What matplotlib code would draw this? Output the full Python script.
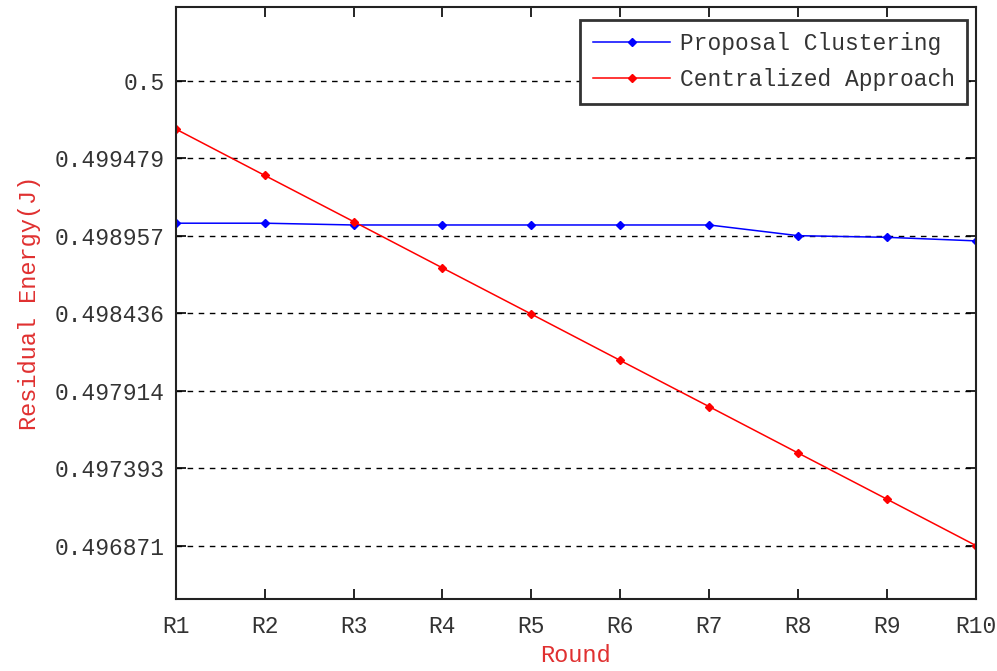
import numpy as np
import matplotlib.pyplot as plt

rounds = ['R1', 'R2', 'R3', 'R4', 'R5', 'R6', 'R7', 'R8', 'R9', 'R10']
proposal = [0.499041, 0.499041, 0.499029, 0.499029, 0.499029,
            0.499029, 0.499029, 0.498957, 0.498946, 0.498922]
centralized = [0.499675, 0.499363, 0.499052, 0.498740, 0.498429,
               0.498117, 0.497806, 0.497494, 0.497183, 0.496871]
ytick_vals = [0.496871, 0.497393, 0.497914, 0.498436, 0.498957, 0.499479, 0.5]
ytick_labels = ['0.496871', '0.497393', '0.497914', '0.498436', '0.498957', '0.499479', '0.5']

plt.rcParams['font.family'] = ['Liberation Mono', 'DejaVu Sans Mono']

fig = plt.figure(figsize=(9.97, 6.71), dpi=100)
ax = fig.add_axes([0.1762, 0.1069, 0.8028, 0.8831])

x = np.arange(len(rounds))
ax.plot(x, proposal, color='blue', lw=1.1, marker='D', ms=4.5, label='Proposal Clustering')
ax.plot(x, centralized, color='red', lw=1.1, marker='D', ms=4.5, label='Centralized Approach')

ax.set_xlim(0, len(rounds) - 1)
ax.set_ylim(0.49651, 0.500498)
ax.set_xticks(x)
ax.set_xticklabels(rounds)
ax.set_yticks(ytick_vals)
ax.set_yticklabels(ytick_labels)

ax.yaxis.grid(True, color='black', linestyle=(0, (4, 4)), lw=1)
ax.tick_params(direction='in', length=7, width=1.2, top=True, right=True,
               labelsize=16.5, labelcolor='#333333')
ax.tick_params(axis='x', pad=11)
ax.tick_params(axis='y', pad=8)
for s in ax.spines.values():
    s.set_linewidth(1.5)
    s.set_color('#222222')

ax.set_xlabel('Round', color='#e03030', fontsize=17, labelpad=5)
ax.set_ylabel('Residual Energy(J)', color='#e03030', fontsize=17, labelpad=10)

leg = ax.legend(loc='upper right', fontsize=16.5, frameon=True, fancybox=False,
                framealpha=1, edgecolor='#333333', borderpad=0.55, handlelength=3.4,
                handletextpad=0.4, labelspacing=0.55, borderaxespad=0,
                bbox_to_anchor=(0.989, 0.978))
leg.get_frame().set_linewidth(2)
for t in leg.get_texts():
    t.set_color('#333333')

fig.savefig('out.png', dpi=100)
